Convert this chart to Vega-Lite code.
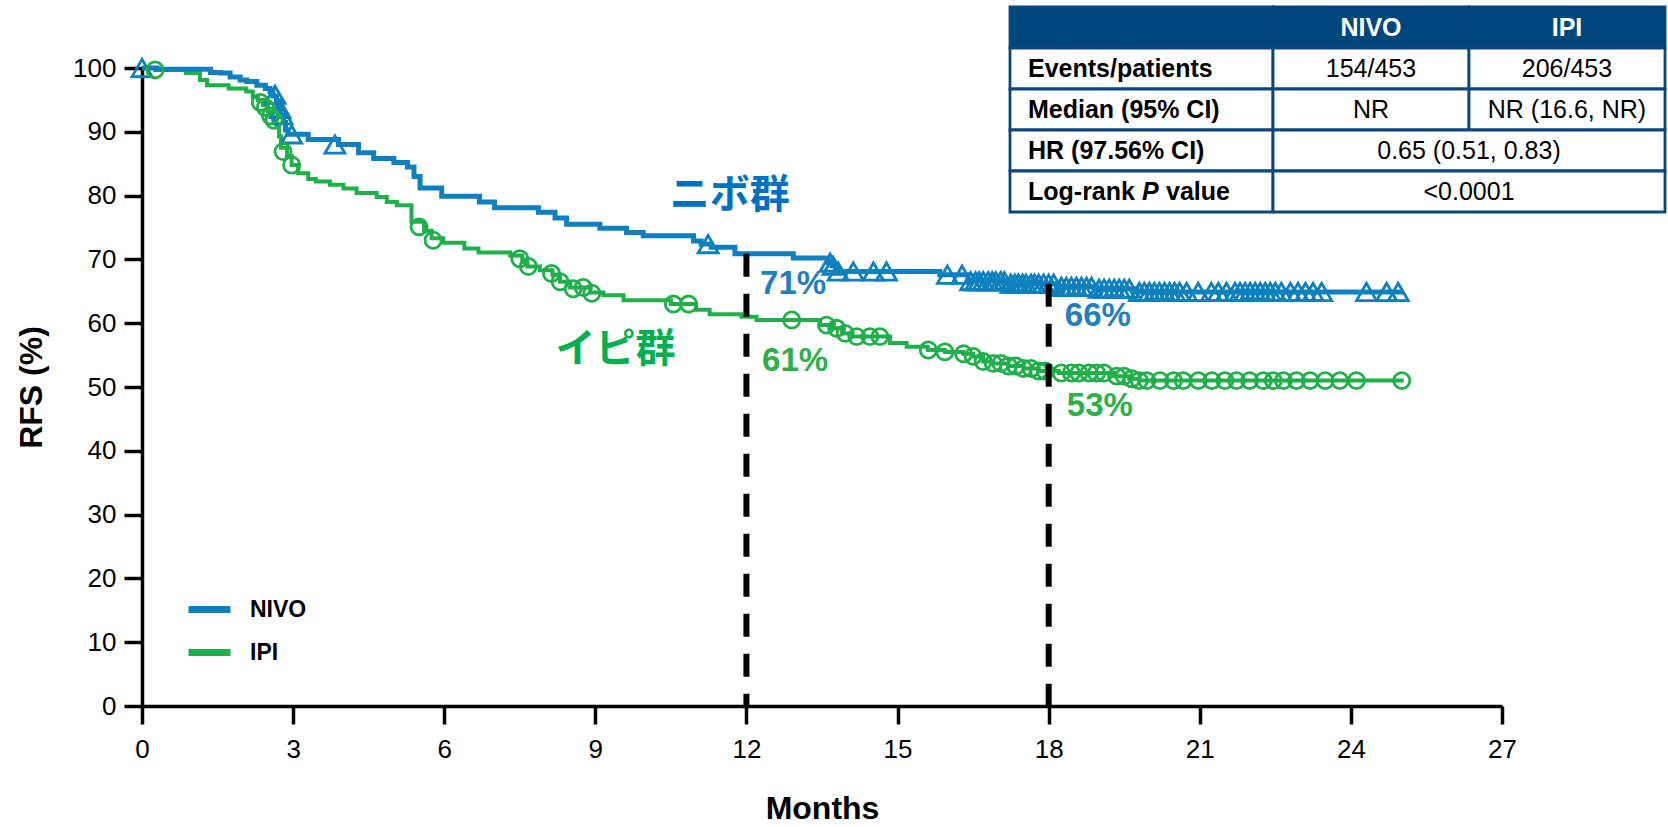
{
  "$schema": "https://vega.github.io/schema/vega-lite/v6.json",
  "width": 1360,
  "height": 638,
  "autosize": "none",
  "padding": {"left": 142, "top": 68, "right": 166, "bottom": 121},
  "background": "white",
  "config": {"view": {"stroke": null}, "font": "Liberation Sans"},
  "datasets": {
    "curves": [
      {"group":"NIVO","month":0,"surv":100},{"group":"NIVO","month":0.3,"surv":99.8},{"group":"NIVO","month":1.36,"surv":99.3},{"group":"NIVO","month":1.55,"surv":99.2},{"group":"NIVO","month":1.75,"surv":98.6},{"group":"NIVO","month":1.95,"surv":98.1},{"group":"NIVO","month":2.08,"surv":97.9},{"group":"NIVO","month":2.28,"surv":97.3},{"group":"NIVO","month":2.45,"surv":96.8},{"group":"NIVO","month":2.54,"surv":96.3},{"group":"NIVO","month":2.6,"surv":95.6},{"group":"NIVO","month":2.67,"surv":94.5},{"group":"NIVO","month":2.72,"surv":93.5},{"group":"NIVO","month":2.76,"surv":92.6},{"group":"NIVO","month":2.81,"surv":91.5},{"group":"NIVO","month":2.85,"surv":90.3},{"group":"NIVO","month":2.9,"surv":89.6},{"group":"NIVO","month":3.3,"surv":88.8},{"group":"NIVO","month":3.9,"surv":88.0},{"group":"NIVO","month":4.3,"surv":86.7},{"group":"NIVO","month":4.6,"surv":85.8},{"group":"NIVO","month":5.0,"surv":85.2},{"group":"NIVO","month":5.27,"surv":84.5},{"group":"NIVO","month":5.4,"surv":83.0},{"group":"NIVO","month":5.52,"surv":81.2},{"group":"NIVO","month":5.95,"surv":79.9},{"group":"NIVO","month":6.7,"surv":79.0},{"group":"NIVO","month":7.0,"surv":78.1},{"group":"NIVO","month":7.87,"surv":77.4},{"group":"NIVO","month":8.2,"surv":76.5},{"group":"NIVO","month":8.43,"surv":75.5},{"group":"NIVO","month":9.09,"surv":74.9},{"group":"NIVO","month":9.62,"surv":74.2},{"group":"NIVO","month":9.95,"surv":73.7},{"group":"NIVO","month":10.95,"surv":72.9},{"group":"NIVO","month":11.1,"surv":72.4},{"group":"NIVO","month":11.3,"surv":71.9},{"group":"NIVO","month":11.77,"surv":70.9},{"group":"NIVO","month":12.93,"surv":70.2},{"group":"NIVO","month":13.62,"surv":69.5},{"group":"NIVO","month":13.7,"surv":69.0},{"group":"NIVO","month":13.8,"surv":68.1},{"group":"NIVO","month":15.84,"surv":67.6},{"group":"NIVO","month":16.4,"surv":66.6},{"group":"NIVO","month":17.2,"surv":66.2},{"group":"NIVO","month":18.2,"surv":65.7},{"group":"NIVO","month":18.95,"surv":65.4},{"group":"NIVO","month":19.75,"surv":64.9},{"group":"NIVO","month":25.05,"surv":64.9},
      {"group":"IPI","month":0,"surv":100},{"group":"IPI","month":0.26,"surv":99.7},{"group":"IPI","month":0.87,"surv":99.2},{"group":"IPI","month":1.15,"surv":98.1},{"group":"IPI","month":1.29,"surv":97.3},{"group":"IPI","month":1.72,"surv":96.8},{"group":"IPI","month":2.07,"surv":96.3},{"group":"IPI","month":2.2,"surv":95.5},{"group":"IPI","month":2.3,"surv":95.0},{"group":"IPI","month":2.4,"surv":94.2},{"group":"IPI","month":2.5,"surv":93.2},{"group":"IPI","month":2.6,"surv":92.0},{"group":"IPI","month":2.67,"surv":91.0},{"group":"IPI","month":2.72,"surv":89.3},{"group":"IPI","month":2.76,"surv":87.5},{"group":"IPI","month":2.88,"surv":86.2},{"group":"IPI","month":2.97,"surv":84.8},{"group":"IPI","month":3.1,"surv":83.5},{"group":"IPI","month":3.3,"surv":82.6},{"group":"IPI","month":3.45,"surv":82.2},{"group":"IPI","month":3.73,"surv":81.7},{"group":"IPI","month":4.0,"surv":81.1},{"group":"IPI","month":4.26,"surv":80.4},{"group":"IPI","month":4.66,"surv":79.8},{"group":"IPI","month":4.86,"surv":79.0},{"group":"IPI","month":5.06,"surv":78.5},{"group":"IPI","month":5.35,"surv":75.9},{"group":"IPI","month":5.6,"surv":74.5},{"group":"IPI","month":5.75,"surv":73.3},{"group":"IPI","month":5.98,"surv":72.6},{"group":"IPI","month":6.4,"surv":71.7},{"group":"IPI","month":6.68,"surv":71.1},{"group":"IPI","month":7.31,"surv":70.6},{"group":"IPI","month":7.55,"surv":69.6},{"group":"IPI","month":7.65,"surv":68.9},{"group":"IPI","month":7.9,"surv":68.3},{"group":"IPI","month":8.15,"surv":67.6},{"group":"IPI","month":8.3,"surv":66.5},{"group":"IPI","month":8.5,"surv":65.6},{"group":"IPI","month":8.9,"surv":64.8},{"group":"IPI","month":9.16,"surv":64.4},{"group":"IPI","month":9.56,"surv":63.6},{"group":"IPI","month":10.5,"surv":63.0},{"group":"IPI","month":11.0,"surv":62.1},{"group":"IPI","month":11.27,"surv":61.4},{"group":"IPI","month":11.9,"surv":61.0},{"group":"IPI","month":12.2,"surv":60.5},{"group":"IPI","month":13.46,"surv":59.7},{"group":"IPI","month":13.7,"surv":59.2},{"group":"IPI","month":13.9,"surv":58.4},{"group":"IPI","month":14.1,"surv":57.9},{"group":"IPI","month":14.85,"surv":56.9},{"group":"IPI","month":15.18,"surv":56.3},{"group":"IPI","month":15.6,"surv":55.8},{"group":"IPI","month":15.94,"surv":55.5},{"group":"IPI","month":16.3,"surv":55.2},{"group":"IPI","month":16.5,"surv":54.8},{"group":"IPI","month":16.7,"surv":54.0},{"group":"IPI","month":16.9,"surv":53.7},{"group":"IPI","month":17.2,"surv":53.3},{"group":"IPI","month":17.5,"surv":52.9},{"group":"IPI","month":17.8,"surv":52.5},{"group":"IPI","month":18.2,"surv":52.2},{"group":"IPI","month":19.3,"surv":51.7},{"group":"IPI","month":19.6,"surv":51.3},{"group":"IPI","month":19.8,"surv":51.0},{"group":"IPI","month":25.05,"surv":51.0}
    ],
    "censors": [
      {"group":"NIVO","month":0,"surv":100},{"group":"NIVO","month":2.64,"surv":95.8},{"group":"NIVO","month":2.74,"surv":93.6},{"group":"NIVO","month":2.78,"surv":92.6},{"group":"NIVO","month":2.97,"surv":89.6},{"group":"NIVO","month":3.83,"surv":88.0},{"group":"NIVO","month":11.24,"surv":72.4},{"group":"NIVO","month":13.66,"surv":69.5},{"group":"NIVO","month":13.72,"surv":69.0},{"group":"NIVO","month":13.82,"surv":68.1},{"group":"NIVO","month":14.12,"surv":68.1},{"group":"NIVO","month":14.52,"surv":68.1},{"group":"NIVO","month":14.78,"surv":68.1},{"group":"NIVO","month":15.99,"surv":67.6},{"group":"NIVO","month":16.28,"surv":67.6},{"group":"NIVO","month":16.45,"surv":66.6},{"group":"NIVO","month":16.55,"surv":66.6},{"group":"NIVO","month":16.62,"surv":66.6},{"group":"NIVO","month":16.7,"surv":66.6},{"group":"NIVO","month":16.8,"surv":66.6},{"group":"NIVO","month":16.88,"surv":66.6},{"group":"NIVO","month":16.95,"surv":66.6},{"group":"NIVO","month":17.05,"surv":66.6},{"group":"NIVO","month":17.12,"surv":66.6},{"group":"NIVO","month":17.25,"surv":66.2},{"group":"NIVO","month":17.33,"surv":66.2},{"group":"NIVO","month":17.4,"surv":66.2},{"group":"NIVO","month":17.48,"surv":66.2},{"group":"NIVO","month":17.55,"surv":66.2},{"group":"NIVO","month":17.65,"surv":66.2},{"group":"NIVO","month":17.72,"surv":66.2},{"group":"NIVO","month":17.8,"surv":66.2},{"group":"NIVO","month":17.9,"surv":66.2},{"group":"NIVO","month":18.0,"surv":66.2},{"group":"NIVO","month":18.1,"surv":66.2},{"group":"NIVO","month":18.25,"surv":65.7},{"group":"NIVO","month":18.35,"surv":65.7},{"group":"NIVO","month":18.45,"surv":65.7},{"group":"NIVO","month":18.55,"surv":65.7},{"group":"NIVO","month":18.65,"surv":65.7},{"group":"NIVO","month":18.75,"surv":65.7},{"group":"NIVO","month":18.85,"surv":65.7},{"group":"NIVO","month":19.0,"surv":65.4},{"group":"NIVO","month":19.1,"surv":65.4},{"group":"NIVO","month":19.2,"surv":65.4},{"group":"NIVO","month":19.3,"surv":65.4},{"group":"NIVO","month":19.4,"surv":65.4},{"group":"NIVO","month":19.5,"surv":65.4},{"group":"NIVO","month":19.6,"surv":65.4},{"group":"NIVO","month":19.8,"surv":64.9},{"group":"NIVO","month":19.9,"surv":64.9},{"group":"NIVO","month":20.0,"surv":64.9},{"group":"NIVO","month":20.1,"surv":64.9},{"group":"NIVO","month":20.2,"surv":64.9},{"group":"NIVO","month":20.3,"surv":64.9},{"group":"NIVO","month":20.4,"surv":64.9},{"group":"NIVO","month":20.5,"surv":64.9},{"group":"NIVO","month":20.6,"surv":64.9},{"group":"NIVO","month":20.74,"surv":64.9},{"group":"NIVO","month":20.97,"surv":64.9},{"group":"NIVO","month":21.23,"surv":64.9},{"group":"NIVO","month":21.37,"surv":64.9},{"group":"NIVO","month":21.53,"surv":64.9},{"group":"NIVO","month":21.7,"surv":64.9},{"group":"NIVO","month":21.8,"surv":64.9},{"group":"NIVO","month":21.9,"surv":64.9},{"group":"NIVO","month":22.0,"surv":64.9},{"group":"NIVO","month":22.1,"surv":64.9},{"group":"NIVO","month":22.2,"surv":64.9},{"group":"NIVO","month":22.3,"surv":64.9},{"group":"NIVO","month":22.4,"surv":64.9},{"group":"NIVO","month":22.5,"surv":64.9},{"group":"NIVO","month":22.62,"surv":64.9},{"group":"NIVO","month":22.8,"surv":64.9},{"group":"NIVO","month":22.95,"surv":64.9},{"group":"NIVO","month":23.1,"surv":64.9},{"group":"NIVO","month":23.25,"surv":64.9},{"group":"NIVO","month":23.42,"surv":64.9},{"group":"NIVO","month":24.31,"surv":64.9},{"group":"NIVO","month":24.71,"surv":64.9},{"group":"NIVO","month":24.94,"surv":64.9},
      {"group":"IPI","month":0.26,"surv":99.7},{"group":"IPI","month":2.35,"surv":94.6},{"group":"IPI","month":2.45,"surv":93.8},{"group":"IPI","month":2.55,"surv":92.5},{"group":"IPI","month":2.62,"surv":91.8},{"group":"IPI","month":2.8,"surv":86.9},{"group":"IPI","month":2.97,"surv":84.8},{"group":"IPI","month":5.5,"surv":75.1},{"group":"IPI","month":5.78,"surv":73.0},{"group":"IPI","month":7.5,"surv":70.1},{"group":"IPI","month":7.67,"surv":68.9},{"group":"IPI","month":8.13,"surv":67.8},{"group":"IPI","month":8.3,"surv":66.5},{"group":"IPI","month":8.56,"surv":65.4},{"group":"IPI","month":8.76,"surv":65.6},{"group":"IPI","month":8.93,"surv":64.7},{"group":"IPI","month":10.55,"surv":63.0},{"group":"IPI","month":10.85,"surv":63.0},{"group":"IPI","month":12.9,"surv":60.5},{"group":"IPI","month":13.59,"surv":59.7},{"group":"IPI","month":13.79,"surv":59.2},{"group":"IPI","month":13.96,"surv":58.4},{"group":"IPI","month":14.19,"surv":57.9},{"group":"IPI","month":14.45,"surv":57.9},{"group":"IPI","month":14.65,"surv":57.9},{"group":"IPI","month":15.61,"surv":55.8},{"group":"IPI","month":15.94,"surv":55.5},{"group":"IPI","month":16.31,"surv":55.2},{"group":"IPI","month":16.5,"surv":54.8},{"group":"IPI","month":16.7,"surv":54.0},{"group":"IPI","month":16.9,"surv":53.7},{"group":"IPI","month":17.05,"surv":53.7},{"group":"IPI","month":17.2,"surv":53.3},{"group":"IPI","month":17.35,"surv":53.3},{"group":"IPI","month":17.5,"surv":52.9},{"group":"IPI","month":17.65,"surv":52.9},{"group":"IPI","month":17.8,"surv":52.5},{"group":"IPI","month":17.93,"surv":52.5},{"group":"IPI","month":18.25,"surv":52.2},{"group":"IPI","month":18.45,"surv":52.2},{"group":"IPI","month":18.6,"surv":52.2},{"group":"IPI","month":18.8,"surv":52.2},{"group":"IPI","month":18.95,"surv":52.2},{"group":"IPI","month":19.1,"surv":52.2},{"group":"IPI","month":19.35,"surv":51.7},{"group":"IPI","month":19.5,"surv":51.7},{"group":"IPI","month":19.65,"surv":51.3},{"group":"IPI","month":19.8,"surv":51.0},{"group":"IPI","month":19.95,"surv":51.0},{"group":"IPI","month":20.21,"surv":51.0},{"group":"IPI","month":20.48,"surv":51.0},{"group":"IPI","month":20.67,"surv":51.0},{"group":"IPI","month":20.97,"surv":51.0},{"group":"IPI","month":21.24,"surv":51.0},{"group":"IPI","month":21.5,"surv":51.0},{"group":"IPI","month":21.73,"surv":51.0},{"group":"IPI","month":21.99,"surv":51.0},{"group":"IPI","month":22.26,"surv":51.0},{"group":"IPI","month":22.46,"surv":51.0},{"group":"IPI","month":22.66,"surv":51.0},{"group":"IPI","month":22.92,"surv":51.0},{"group":"IPI","month":23.19,"surv":51.0},{"group":"IPI","month":23.49,"surv":51.0},{"group":"IPI","month":23.78,"surv":51.0},{"group":"IPI","month":24.11,"surv":51.0},{"group":"IPI","month":25.01,"surv":51.0}
    ],
    "landmarks": [{"month": 12, "surv": 70.9}, {"month": 18, "surv": 66.2}],
    "tableLabels": [
      {"row": "header", "col": "label", "text": ""},
      {"row": "Events/patients", "col": "label", "text": "Events/patients"},
      {"row": "Median (95% CI)", "col": "label", "text": "Median (95% CI)"},
      {"row": "HR (97.56% CI)", "col": "label", "text": "HR (97.56% CI)"},
      {"row": "Log-rank P value", "col": "label", "text": "Log-rank P value"}
    ],
    "tableCells": [
      {"row": "header", "col": "NIVO", "text": "NIVO"},
      {"row": "header", "col": "IPI", "text": "IPI"},
      {"row": "Events/patients", "col": "NIVO", "text": "154/453"},
      {"row": "Events/patients", "col": "IPI", "text": "206/453"},
      {"row": "Median (95% CI)", "col": "NIVO", "text": "NR"},
      {"row": "Median (95% CI)", "col": "IPI", "text": "NR (16.6, NR)"}
    ],
    "tableSpan": [
      {"row": "HR (97.56% CI)", "col": "both", "text": "0.65 (0.51, 0.83)"},
      {"row": "Log-rank P value", "col": "both", "text": "<0.0001"}
    ]
  },
  "layer": [
    {
      "encoding": {
        "x": {"field": "month", "type": "quantitative",
          "scale": {"domain": [0, 27], "nice": false, "zero": false},
          "axis": {"title": "Months", "values": [0,3,6,9,12,15,18,21,24,27], "grid": false,
            "domainColor": "#000", "domainWidth": 3.5, "tickColor": "#000", "tickWidth": 3.5, "tickSize": 18,
            "labelFont": "Liberation Sans", "labelFontSize": 26, "labelColor": "#000", "labelPadding": 12,
            "labelFlush": false, "labelOverlap": false,
            "titleFont": "Liberation Sans", "titleFontSize": 32, "titleFontWeight": "bold", "titleColor": "#000", "titlePadding": 31}},
        "y": {"field": "surv", "type": "quantitative",
          "scale": {"domain": [0, 100], "nice": false},
          "axis": {"title": "RFS (%)", "values": [0,10,20,30,40,50,60,70,80,90,100], "grid": false,
            "domainColor": "#000", "domainWidth": 3.5, "tickColor": "#000", "tickWidth": 3.5, "tickSize": 18,
            "labelFont": "Liberation Sans", "labelFontSize": 26, "labelColor": "#000", "labelPadding": 8,
            "labelFlush": false, "labelOverlap": false,
            "titleFont": "Liberation Sans", "titleFontSize": 32, "titleFontWeight": "bold", "titleColor": "#000", "titlePadding": 24}}
      },
      "layer": [
        {
          "data": {"name": "curves"},
          "transform": [{"filter": "datum.group === 'IPI'"}],
          "mark": {"type": "line", "interpolate": "step-after", "strokeWidth": 4},
          "encoding": {
            "color": {"field": "group", "type": "nominal",
              "scale": {"domain": ["NIVO", "IPI"], "range": ["#0F80BF", "#1FAF4B"]},
              "legend": {"orient": "none", "legendX": 43, "legendY": 517, "title": null, "symbolType": "stroke",
                "symbolSize": 1764, "symbolStrokeWidth": 7, "labelFont": "Liberation Sans", "labelFontSize": 23,
                "labelFontWeight": "bold", "labelColor": "#000", "labelOffset": 16, "rowPadding": 4, "padding": 0}}
          }
        },
        {
          "data": {"name": "curves"},
          "transform": [{"filter": "datum.group === 'NIVO'"}],
          "mark": {"type": "line", "interpolate": "step-after", "strokeWidth": 5},
          "encoding": {
            "color": {"field": "group", "type": "nominal"}
          }
        },
        {
          "data": {"name": "censors"},
          "mark": {"type": "point", "filled": false, "strokeWidth": 2.8, "opacity": 1},
          "encoding": {
            "color": {"condition": {"test": "datum.group === 'NIVO'", "value": "#0F80BF"}, "value": "#1FAF4B"},
            "shape": {"condition": {"test": "datum.group === 'NIVO'", "value": "triangle-up"}, "value": "circle"},
            "size": {"condition": {"test": "datum.group === 'NIVO'", "value": 400}, "value": 260}
          }
        },
        {
          "data": {"name": "landmarks"},
          "mark": {"type": "rule", "color": "#000", "strokeWidth": 6, "strokeDash": [23, 17]},
          "encoding": {"y2": {"datum": 0}}
        },
        {
          "data": {"values": [{"label": "ニボ群", "month": 11.67, "surv": 79.9}]},
          "mark": {"type": "text", "font": "Noto Sans CJK JP", "fontWeight": "bold", "fontSize": 40, "color": "#0070C0", "align": "center", "baseline": "middle"},
          "encoding": {"text": {"field": "label"}}
        },
        {
          "data": {"values": [{"label": "イピ群", "month": 9.4, "surv": 55.8}]},
          "mark": {"type": "text", "font": "Noto Sans CJK JP", "fontWeight": "bold", "fontSize": 40, "color": "#00B050", "align": "center", "baseline": "middle"},
          "encoding": {"text": {"field": "label"}}
        },
        {
          "data": {"values": [{"label": "71%", "month": 12.27, "surv": 66.1}, {"label": "66%", "month": 18.32, "surv": 61.1}]},
          "mark": {"type": "text", "font": "Liberation Sans", "fontWeight": "bold", "fontSize": 33, "color": "#1F80C0", "align": "left", "baseline": "middle"},
          "encoding": {"text": {"field": "label"}}
        },
        {
          "data": {"values": [{"label": "61%", "month": 12.31, "surv": 54.1}, {"label": "53%", "month": 18.36, "surv": 47.0}]},
          "mark": {"type": "text", "font": "Liberation Sans", "fontWeight": "bold", "fontSize": 33, "color": "#2BB04A", "align": "left", "baseline": "middle"},
          "encoding": {"text": {"field": "label"}}
        }
      ]
    },
    {
      "data": {"name": "tableLabels"},
      "encoding": {
        "x": {"field": "col", "type": "nominal", "scale": {"type": "band", "domain": ["label"], "range": [868, 1131], "paddingInner": 0, "paddingOuter": 0}, "axis": null},
        "y": {"field": "row", "type": "nominal", "scale": {"type": "band", "domain": ["header", "Events/patients", "Median (95% CI)", "HR (97.56% CI)", "Log-rank P value"], "range": [-61, 144], "paddingInner": 0, "paddingOuter": 0}, "axis": null}
      },
      "layer": [
        {
          "mark": {"type": "rect", "stroke": "#0B467F", "strokeWidth": 2.8},
          "encoding": {"fill": {"condition": {"test": "datum.row === 'header'", "value": "#00457C"}, "value": "#FFFFFF"}}
        },
        {
          "transform": [{"filter": "datum.row !== 'Log-rank P value'"}],
          "mark": {"type": "text", "align": "left", "baseline": "middle", "dx": 18, "fontSize": 25, "fontWeight": "bold", "font": "Liberation Sans", "color": "#000"},
          "encoding": {"x": {"field": "col", "type": "nominal", "bandPosition": 0}, "text": {"field": "text"}}
        },
        {
          "transform": [{"filter": "datum.row === 'Log-rank P value'"}],
          "mark": {"type": "text", "align": "left", "baseline": "middle", "dx": 18, "fontSize": 25, "fontWeight": "bold", "font": "Liberation Sans", "color": "#000", "text": "Log-rank"},
          "encoding": {"x": {"field": "col", "type": "nominal", "bandPosition": 0}}
        },
        {
          "transform": [{"filter": "datum.row === 'Log-rank P value'"}],
          "mark": {"type": "text", "align": "left", "baseline": "middle", "dx": 132, "fontSize": 25, "fontWeight": "bold", "fontStyle": "italic", "font": "Liberation Sans", "color": "#000", "text": "P"},
          "encoding": {"x": {"field": "col", "type": "nominal", "bandPosition": 0}}
        },
        {
          "transform": [{"filter": "datum.row === 'Log-rank P value'"}],
          "mark": {"type": "text", "align": "left", "baseline": "middle", "dx": 156, "fontSize": 25, "fontWeight": "bold", "font": "Liberation Sans", "color": "#000", "text": "value"},
          "encoding": {"x": {"field": "col", "type": "nominal", "bandPosition": 0}}
        }
      ]
    },
    {
      "data": {"name": "tableCells"},
      "encoding": {
        "x": {"field": "col", "type": "nominal", "scale": {"type": "band", "domain": ["NIVO", "IPI"], "range": [1131, 1523], "paddingInner": 0, "paddingOuter": 0}, "axis": null},
        "y": {"field": "row", "type": "nominal", "scale": {"type": "band", "domain": ["header", "Events/patients", "Median (95% CI)", "HR (97.56% CI)", "Log-rank P value"], "range": [-61, 144], "paddingInner": 0, "paddingOuter": 0}, "axis": null}
      },
      "layer": [
        {
          "mark": {"type": "rect", "strokeWidth": 2.8},
          "encoding": {"fill": {"condition": {"test": "datum.row === 'header'", "value": "#00457C"}, "value": "#FFFFFF"},
                       "stroke": {"condition": {"test": "datum.row === 'header'", "value": "#00457C"}, "value": "#0B467F"}}
        },
        {
          "transform": [{"filter": "datum.row === 'header'"}],
          "mark": {"type": "text", "align": "center", "baseline": "middle", "fontSize": 25, "fontWeight": "bold", "font": "Liberation Sans", "color": "#FFFFFF"},
          "encoding": {"text": {"field": "text"}}
        },
        {
          "transform": [{"filter": "datum.row !== 'header'"}],
          "mark": {"type": "text", "align": "center", "baseline": "middle", "fontSize": 25, "font": "Liberation Sans", "color": "#000"},
          "encoding": {"text": {"field": "text"}}
        }
      ]
    },
    {
      "data": {"name": "tableSpan"},
      "encoding": {
        "x": {"field": "col", "type": "nominal", "scale": {"type": "band", "domain": ["both"], "range": [1131, 1523], "paddingInner": 0, "paddingOuter": 0}, "axis": null},
        "y": {"field": "row", "type": "nominal", "scale": {"type": "band", "domain": ["header", "Events/patients", "Median (95% CI)", "HR (97.56% CI)", "Log-rank P value"], "range": [-61, 144], "paddingInner": 0, "paddingOuter": 0}, "axis": null}
      },
      "layer": [
        {
          "mark": {"type": "rect", "stroke": "#0B467F", "strokeWidth": 2.8, "fill": "#FFFFFF"}
        },
        {
          "mark": {"type": "text", "align": "center", "baseline": "middle", "fontSize": 25, "font": "Liberation Sans", "color": "#000"},
          "encoding": {"text": {"field": "text"}}
        }
      ]
    }
  ],
  "resolve": {"scale": {"x": "independent", "y": "independent"}}
}
